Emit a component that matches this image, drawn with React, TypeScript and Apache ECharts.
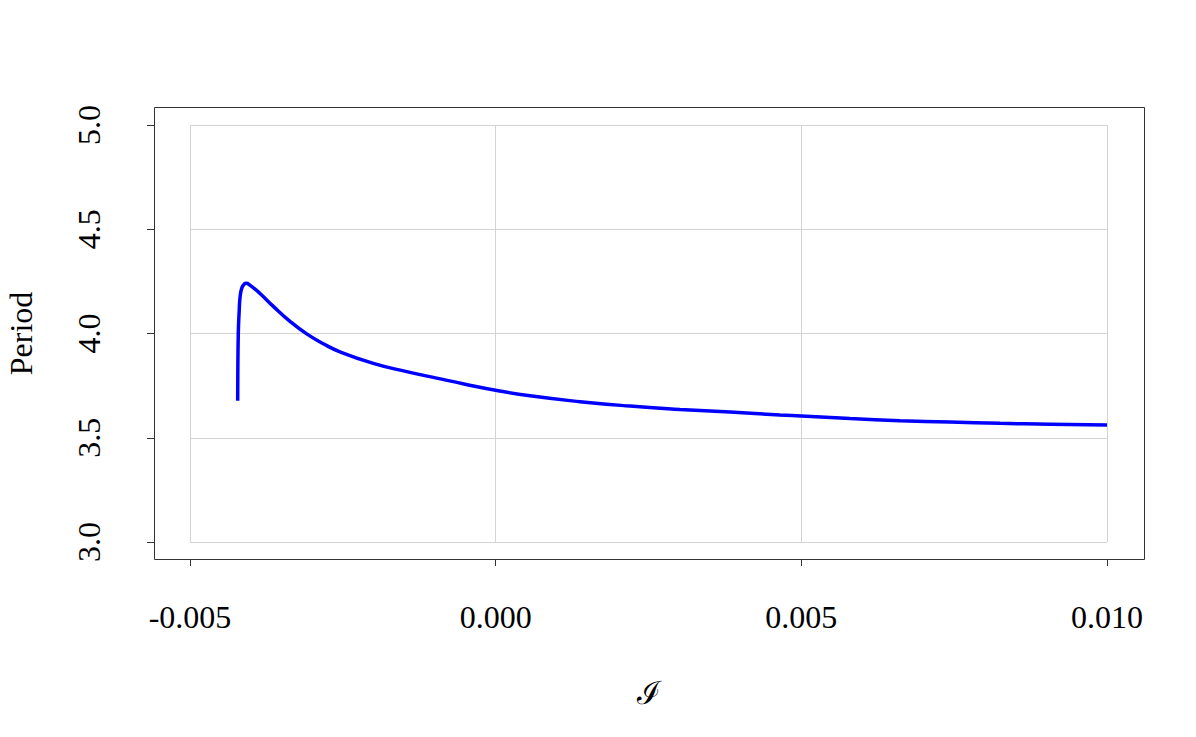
import React, { useEffect, useRef } from "react";
import * as echarts from "echarts";

// Curve: current I (x) vs period (y)
const currentValues = [
  -0.00422, -0.004218, -0.00421, -0.004195, -0.00418, -0.00415, -0.00411, -0.00408,
  -0.00402, -0.003855, -0.003637, -0.003364, -0.003091, -0.00282, -0.002547, -0.002002,
  -0.001455, -0.000965, -0.0005, 0.0, 0.000562, 0.00138, 0.002197, 0.003015, 0.003833,
  0.00465, 0.005, 0.005797, 0.006614, 0.00743, 0.00825, 0.00907, 0.01,
];
const periodValues = [
  3.678, 3.8, 4.0, 4.11, 4.177, 4.22, 4.238, 4.241,
  4.232, 4.192, 4.13, 4.058, 3.998, 3.951, 3.912, 3.857,
  3.817, 3.786, 3.757, 3.728, 3.701, 3.673, 3.652, 3.636, 3.623,
  3.609, 3.604, 3.592, 3.582, 3.575, 3.569, 3.565, 3.561,
];
const xTicks = [-0.005, 0.0, 0.005, 0.01];
const xTickLabels = ["-0.005", "0.000", "0.005", "0.010"];
const yTickLabels = ["3.0", "3.5", "4.0", "4.5", "5.0"];

const FONT = "'Liberation Serif', 'DejaVu Serif', serif";

export default function App() {
  const ref = useRef<HTMLDivElement>(null);
  useEffect(() => {
    if (!ref.current) return;
    const chart = echarts.init(ref.current, null, { renderer: "svg" });
    const data = currentValues.map((x, i) => [x, periodValues[i]]);
    chart.setOption({
      animation: false,
      backgroundColor: "#ffffff",
      grid: {
        left: 190,
        right: 89,
        top: 125,
        bottom: 195,
        containLabel: false,
        outerBoundsMode: "none",
      },
      xAxis: {
        type: "value",
        min: -0.005,
        max: 0.01,
        interval: 0.005,
        offset: 17,
        name: "\u2110",
        nameLocation: "middle",
        nameGap: 118,
        nameTextStyle: { fontFamily: FONT, fontSize: 32, color: "#000" },
        axisLine: { show: true, onZero: false, lineStyle: { color: "#333", width: 1 } },
        axisTick: { show: true, inside: false, length: 7, lineStyle: { color: "#333" } },
        axisLabel: {
          margin: 42,
          fontFamily: FONT,
          fontSize: 32,
          color: "#000",
          formatter: (v: number) => {
            const i = xTicks.findIndex((t) => Math.abs(t - v) < 1e-9);
            return i >= 0 ? xTickLabels[i] : "";
          },
        },
        splitLine: { show: true, lineStyle: { color: "#d3d3d3", width: 1 } },
      },
      yAxis: {
        type: "value",
        min: 3,
        max: 5,
        interval: 0.5,
        offset: 36,
        name: "Period",
        nameLocation: "middle",
        nameRotate: 90,
        nameGap: 117,
        nameTextStyle: { fontFamily: FONT, fontSize: 32, color: "#000" },
        axisLine: { show: true, onZero: false, lineStyle: { color: "#333", width: 1 } },
        axisTick: { show: true, inside: false, length: 7, lineStyle: { color: "#333" } },
        axisLabel: {
          rotate: 90,
          margin: 49,
          fontFamily: FONT,
          fontSize: 32,
          color: "#000",
          formatter: (v: number) => {
            const i = Math.round((v - 3) / 0.5);
            return yTickLabels[i] ?? "";
          },
        },
        splitLine: { show: true, lineStyle: { color: "#d3d3d3", width: 1 } },
      },
      graphic: [
        {
          type: "rect",
          shape: { x: 154.5, y: 107.5, width: 990, height: 452 },
          style: { fill: "none", stroke: "#333", lineWidth: 1 },
          silent: true,
          z: 10,
        },
      ],
      series: [
        {
          type: "line",
          data,
          showSymbol: false,
          smooth: 0.5,
          lineStyle: { color: "#0000ff", width: 3.5 },
          itemStyle: { color: "#0000ff" },
        },
      ],
    });
    return () => chart.dispose();
  }, []);
  return (
    <div
      ref={ref}
      style={{ position: "fixed", left: 0, top: 0, width: 1196, height: 737, background: "#fff" }}
    />
  );
}
